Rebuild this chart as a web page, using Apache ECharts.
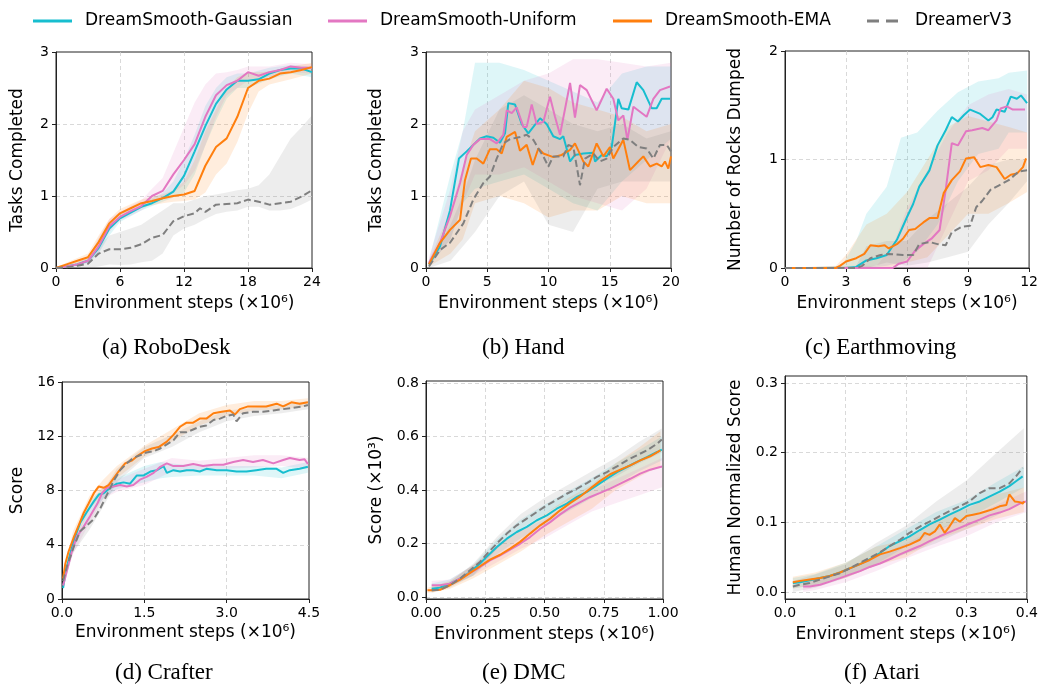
<!DOCTYPE html>
<html><head><meta charset="utf-8">
<script src="https://cdn.jsdelivr.net/npm/echarts@6/dist/echarts.min.js"></script>
<style>html,body{margin:0;padding:0;background:#fff}#c{width:1041px;height:687px}</style>
</head><body><div id="c"></div>
<script>
// ---------- labels ----------
const seriesNames = ['DreamSmooth-Gaussian', 'DreamSmooth-Uniform', 'DreamSmooth-EMA', 'DreamerV3'];
const captions = ['(a) RoboDesk', '(b) Hand', '(c) Earthmoving', '(d) Crafter', '(e) DMC', '(f) Atari'];
const yTitles = ['Tasks Completed', 'Tasks Completed', 'Number of Rocks Dumped', 'Score', 'Score (×10³)', 'Human Normalized Score'];
const xTitle = 'Environment steps (×10⁶)';
const xTickValues = [[0, 6, 12, 18, 24], [0, 5, 10, 15, 20], [0, 3, 6, 9, 12], [0, 1.5, 3.0, 4.5], [0, 0.25, 0.5, 0.75, 1.0], [0, 0.1, 0.2, 0.3, 0.4]];
const yTickValues = [[0, 1, 2, 3], [0, 1, 2, 3], [0, 1, 2], [0, 4, 8, 12, 16], [0, 0.2, 0.4, 0.6, 0.8], [0, 0.1, 0.2, 0.3]];
const xDecimals = [0, 0, 0, 1, 2, 1];
const yDecimals = [0, 0, 0, 0, 1, 1];

// ---------- (a) RoboDesk ----------
const a_gauss = [[0,0],[1,0.02],[2,0.05],[3,0.1],[4,0.28],[5,0.55],[6,0.69],[7,0.77],[8,0.85],[9,0.9],[10,0.97],[11,1.06],[12,1.28],[13,1.62],[14,1.97],[15,2.28],[16,2.48],[17,2.6],[18,2.6],[19,2.62],[20,2.7],[21,2.75],[22,2.77],[23,2.77],[24,2.72]];
const a_unif = [[0,0],[1,0.02],[2,0.05],[3,0.1],[4,0.3],[5,0.58],[6,0.71],[7,0.79],[8,0.86],[9,1.0],[10,1.07],[11,1.3],[12,1.5],[13,1.72],[14,2.1],[15,2.4],[16,2.54],[17,2.6],[18,2.72],[19,2.67],[20,2.72],[21,2.75],[22,2.8],[23,2.78],[24,2.78]];
const a_ema = [[0,0],[1,0.05],[2,0.1],[3,0.15],[4,0.36],[5,0.62],[6,0.76],[7,0.83],[8,0.9],[9,0.93],[10,0.97],[11,1.0],[12,1.02],[13,1.07],[14,1.42],[15,1.68],[16,1.8],[17,2.1],[18,2.5],[19,2.6],[20,2.63],[21,2.7],[22,2.72],[23,2.75],[24,2.79]];
const a_dv3 = [[0,0],[1,0.01],[2,0.03],[3,0.06],[4,0.2],[5,0.26],[6,0.26],[7,0.28],[8,0.33],[9,0.42],[10,0.46],[11,0.65],[12,0.72],[13,0.76],[13.5,0.83],[14,0.78],[15,0.88],[16,0.89],[17,0.9],[18,0.95],[19,0.92],[20,0.88],[21,0.9],[22,0.92],[23,0.99],[24,1.08]];
const a_gauss_band = [[0,0,0.01],[2,0.04,0.08],[3,0.07,0.14],[4,0.2,0.4],[5,0.45,0.65],[6,0.64,0.74],[8,0.8,0.9],[10,0.92,1.04],[11,0.98,1.2],[12,1.05,1.5],[13,1.3,1.85],[14,1.7,2.25],[15,2.05,2.5],[16,2.35,2.65],[17,2.5,2.7],[18,2.5,2.7],[20,2.62,2.78],[22,2.7,2.82],[24,2.65,2.8]];
const a_unif_band = [[0,0,0.01],[2,0.04,0.08],[3,0.07,0.14],[4,0.22,0.42],[5,0.5,0.68],[6,0.66,0.78],[8,0.8,0.94],[9,0.9,1.1],[10,0.95,1.25],[11,1.05,1.6],[12,1.15,1.95],[13,1.35,2.3],[14,1.7,2.55],[15,2.1,2.7],[16,2.4,2.72],[17,2.5,2.75],[18,2.6,2.8],[20,2.65,2.8],[22,2.72,2.85],[24,2.7,2.83]];
const a_ema_band = [[0,0,0.01],[2,0.06,0.14],[3,0.1,0.2],[4,0.28,0.45],[5,0.52,0.68],[6,0.7,0.82],[8,0.84,0.95],[10,0.9,1.02],[11,0.92,1.08],[12,0.93,1.2],[13,0.95,1.5],[14,1.05,1.9],[15,1.3,2.2],[16,1.45,2.5],[17,1.75,2.65],[18,2.15,2.72],[19,2.45,2.72],[20,2.55,2.73],[22,2.62,2.8],[24,2.7,2.85]];
const a_dv3_band = [[0,0,0.01],[2,0,0.07],[3,0,0.12],[4,0.02,0.3],[5,0.05,0.45],[6,0.04,0.5],[7,0.05,0.55],[8,0.08,0.6],[9,0.1,0.7],[10,0.2,0.8],[11,0.45,0.9],[12,0.55,0.9],[13,0.6,0.95],[14,0.68,1.0],[15,0.75,1.02],[16,0.78,1.05],[17,0.8,1.08],[18,0.85,1.1],[19,0.85,1.15],[20,0.8,1.3],[21,0.8,1.55],[22,0.82,1.8],[23,0.88,1.95],[24,0.95,2.12]];

// ---------- (b) Hand ----------
const b_gauss = [[0.24,0.05],[1.14,0.3],[1.96,0.8],[2.69,1.52],[3.32,1.62],[3.86,1.71],[4.41,1.8],[4.95,1.83],[5.5,1.81],[6.04,1.74],[6.45,1.87],[6.72,2.29],[7.27,2.27],[7.81,2.0],[8.35,1.87],[9.31,2.08],[9.85,2.0],[10.39,1.83],[10.94,1.79],[11.21,1.83],[11.76,1.48],[12.16,1.57],[12.84,1.59],[13.66,1.6],[13.8,1.48],[14.34,1.57],[14.75,1.55],[15.16,1.68],[15.7,2.35],[15.97,2.22],[16.52,2.2],[17.2,2.58],[17.74,2.47],[18.42,2.22],[18.83,2.22],[19.24,2.35],[19.92,2.35]];
const b_unif = [[0.24,0.07],[1.14,0.35],[1.96,0.72],[2.78,1.18],[3.32,1.57],[3.86,1.71],[4.41,1.79],[5.22,1.79],[5.77,1.73],[6.31,1.85],[6.59,2.19],[7.0,2.15],[7.4,2.23],[7.95,1.96],[8.22,1.96],[8.63,2.27],[9.03,2.0],[9.58,2.03],[10.12,2.38],[10.53,2.1],[10.94,1.85],[11.76,2.57],[12.16,2.09],[12.57,2.54],[13.12,2.47],[13.93,2.19],[14.75,2.49],[15.29,2.35],[15.7,2.05],[16.11,2.12],[16.44,1.78],[16.93,2.24],[18.01,2.1],[18.56,2.35],[19.1,2.47],[19.92,2.52]];
const b_ema = [[0.24,0.05],[1.14,0.35],[1.96,0.53],[2.78,0.67],[3.18,1.22],[3.67,1.52],[4.14,1.52],[4.68,1.45],[5.22,1.65],[5.77,1.65],[6.18,1.59],[6.59,1.82],[7.27,1.89],[7.67,1.63],[8.22,1.71],[8.71,1.43],[9.17,1.66],[9.58,1.59],[10.39,1.54],[11.07,1.57],[11.76,1.64],[12.16,1.73],[12.84,1.48],[13.25,1.41],[13.93,1.73],[14.48,1.55],[15.02,1.68],[15.29,1.52],[16.11,1.78],[16.65,1.36],[17.33,1.48],[17.74,1.55],[18.29,1.41],[18.83,1.45],[19.24,1.41],[19.51,1.48],[19.78,1.38],[20.0,1.55]];
const b_dv3 = [[0.24,0.02],[1.14,0.25],[1.96,0.35],[3.05,0.62],[3.86,0.95],[4.68,1.18],[5.22,1.27],[5.77,1.52],[6.31,1.73],[6.86,1.79],[7.67,1.82],[8.22,1.85],[8.76,1.78],[9.17,1.66],[9.58,1.55],[9.99,1.41],[10.39,1.55],[11.21,1.55],[11.62,1.71],[12.03,1.68],[12.57,1.15],[12.98,1.52],[13.66,1.59],[14.2,1.48],[14.75,1.52],[15.29,1.68],[16.11,1.8],[16.65,1.78],[17.33,1.68],[18.01,1.66],[18.56,1.52],[19.1,1.71],[19.65,1.71],[20.0,1.62]];
const b_gauss_band = [[0.24,0.02,0.1],[2,0.4,1.3],[3,0.9,1.9],[4,1.1,2.85],[6,1.2,2.85],[8,1.3,2.75],[10,1.1,2.6],[12,0.9,2.45],[14,0.8,2.3],[16,1.2,2.7],[18,1.5,2.8],[20,1.8,2.8]];
const b_unif_band = [[0.24,0.02,0.15],[2,0.4,1.1],[3,0.9,1.9],[4,1.3,2.2],[6,1.3,2.4],[8,1.4,2.6],[10,1.2,2.7],[12,1.0,2.9],[14,0.9,2.9],[16,0.8,2.85],[18,1.1,2.8],[20,1.8,2.85]];
const b_ema_band = [[0.24,0.02,0.1],[2,0.2,0.8],[3,0.4,1.4],[4,0.9,1.9],[6,1.0,2.2],[8,0.9,2.6],[10,0.7,2.5],[12,0.8,2.3],[14,0.8,2.2],[16,1.0,2.1],[18,0.9,1.9],[20,0.9,2.0]];
const b_dv3_band = [[0.24,0.0,0.1],[2,0.1,0.6],[3,0.3,1.0],[4,0.5,1.5],[6,1.0,2.2],[8,1.2,2.4],[10,0.6,2.2],[12,0.5,2.0],[14,1.1,1.9],[16,1.2,2.0],[18,1.2,1.8],[20,1.2,1.9]];

// ---------- (c) Earthmoving ----------
const c_gauss = [[0,0],[3,0],[3.5,0.01],[4.0,0.07],[4.5,0.09],[5.0,0.12],[5.5,0.26],[6.0,0.47],[6.3,0.59],[6.6,0.75],[7.1,0.9],[7.5,1.13],[7.9,1.27],[8.2,1.39],[8.5,1.35],[8.8,1.41],[9.1,1.46],[9.6,1.42],[10.0,1.36],[10.2,1.39],[10.4,1.46],[10.8,1.44],[11.1,1.58],[11.4,1.56],[11.6,1.59],[11.9,1.52]];
const c_unif = [[0,0],[5.3,0],[5.6,0.04],[6.0,0.06],[6.4,0.16],[6.8,0.22],[7.2,0.27],[7.6,0.35],[7.9,0.72],[8.2,1.15],[8.5,1.13],[8.9,1.26],[9.2,1.27],[9.7,1.29],[10.0,1.27],[10.4,1.36],[10.6,1.47],[10.9,1.49],[11.2,1.46],[11.5,1.46],[11.8,1.46]];
const c_ema = [[0,0],[2.5,0],[2.7,0.02],[3.0,0.06],[3.5,0.09],[3.9,0.13],[4.2,0.21],[4.6,0.2],[4.9,0.21],[5.1,0.18],[5.5,0.22],[5.8,0.27],[6.1,0.35],[6.4,0.36],[6.8,0.42],[7.1,0.46],[7.5,0.46],[7.8,0.69],[8.2,0.81],[8.6,0.89],[8.9,1.01],[9.3,1.02],[9.6,0.93],[10.0,0.95],[10.4,0.93],[10.8,0.82],[11.1,0.86],[11.4,0.87],[11.7,0.93],[11.85,1.01]];
const c_dv3 = [[0,0],[3.5,0],[3.8,0.02],[4.2,0.09],[4.7,0.12],[5.1,0.13],[5.8,0.12],[6.3,0.12],[6.6,0.22],[7.1,0.24],[7.5,0.22],[7.9,0.21],[8.2,0.33],[8.7,0.38],[9.1,0.39],[9.4,0.56],[9.7,0.62],[10.1,0.72],[10.5,0.76],[11.0,0.81],[11.5,0.89],[11.9,0.9]];
const c_gauss_band = [[0,0,0],[2.8,0,0.02],[3.5,0,0.25],[4,0,0.5],[5,0.02,0.75],[5.7,0.05,1.2],[6.5,0.15,1.25],[7.5,0.4,1.45],[8.5,0.8,1.62],[9.5,1.05,1.72],[10.5,1.1,1.75],[11,1.25,1.8],[11.9,1.25,1.82]];
const c_unif_band = [[0,0,0],[4.5,0,0.02],[5.3,0,0.2],[6,0,0.55],[7,0,0.9],[8,0.4,1.25],[9,0.8,1.5],[10,0.9,1.6],[11,1.1,1.65],[11.9,1.1,1.6]];
const c_ema_band = [[0,0,0],[2.5,0,0.02],[3,0,0.12],[4,0,0.4],[5,0,0.5],[6,0.05,0.7],[7,0.1,1.0],[8,0.3,1.3],[9,0.5,1.4],[10,0.5,1.35],[11,0.6,1.3],[11.9,0.7,1.25]];
const c_dv3_band = [[0,0,0],[3.5,0,0.02],[4,0,0.2],[5,0.05,0.25],[6,0.02,0.25],[7,0.05,0.45],[8,0.1,0.6],[9,0.15,0.75],[10,0.4,0.95],[11,0.6,1.0],[11.9,0.8,1.0]];

// ---------- (d) Crafter ----------
const d_gauss = [[0.02,0.8],[0.06,1.9],[0.15,3.35],[0.24,4.6],[0.33,5.6],[0.45,6.4],[0.58,7.2],[0.67,7.7],[0.76,7.8],[0.88,8.2],[1.0,8.5],[1.12,8.6],[1.24,8.5],[1.36,9.1],[1.48,9.1],[1.61,9.4],[1.73,9.5],[1.85,9.8],[1.91,9.3],[2.03,9.5],[2.15,9.4],[2.27,9.5],[2.39,9.5],[2.51,9.4],[2.63,9.6],[2.82,9.5],[3.0,9.5],[3.18,9.4],[3.36,9.4],[3.54,9.5],[3.72,9.6],[3.91,9.6],[4.03,9.3],[4.15,9.5],[4.33,9.6],[4.48,9.75]];
const d_unif = [[0.02,1.0],[0.09,2.1],[0.18,3.5],[0.27,4.6],[0.39,5.3],[0.51,6.1],[0.64,7.0],[0.73,7.8],[0.82,8.2],[0.94,8.3],[1.06,8.4],[1.18,8.3],[1.3,8.4],[1.42,8.8],[1.54,9.0],[1.67,9.3],[1.79,9.75],[1.91,10.0],[2.03,9.8],[2.21,9.8],[2.39,9.95],[2.57,9.8],[2.76,9.9],[2.94,9.9],[3.12,10.1],[3.3,10.25],[3.48,10.1],[3.66,10.25],[3.85,10.0],[4.03,10.25],[4.15,10.4],[4.33,10.25],[4.42,10.3],[4.48,9.95]];
const d_ema = [[0.02,1.5],[0.06,2.6],[0.12,3.5],[0.21,4.5],[0.3,5.4],[0.39,6.3],[0.48,7.0],[0.58,7.8],[0.67,8.3],[0.76,8.2],[0.85,8.4],[0.94,8.9],[1.03,9.4],[1.15,10.0],[1.27,10.2],[1.39,10.6],[1.51,10.9],[1.64,11.1],[1.76,11.2],[1.91,11.6],[2.03,12.1],[2.15,12.7],[2.27,13.0],[2.39,13.0],[2.51,13.3],[2.63,13.3],[2.76,13.7],[2.91,13.8],[3.06,13.9],[3.15,13.6],[3.24,14.0],[3.39,14.2],[3.54,14.2],[3.72,14.2],[3.91,14.4],[4.03,14.2],[4.18,14.5],[4.33,14.4],[4.48,14.5]];
const d_dv3 = [[0.02,1.3],[0.09,2.4],[0.21,3.8],[0.33,5.0],[0.45,5.4],[0.58,5.9],[0.7,6.7],[0.82,7.7],[0.94,8.7],[1.06,9.5],[1.18,10.0],[1.3,10.4],[1.42,10.6],[1.54,10.8],[1.67,10.9],[1.79,11.1],[1.91,11.4],[2.03,11.7],[2.15,12.3],[2.27,12.3],[2.39,12.5],[2.51,12.7],[2.63,12.8],[2.76,13.2],[2.88,13.3],[3.0,13.5],[3.12,13.6],[3.18,13.1],[3.3,13.7],[3.48,13.8],[3.66,13.8],[3.85,13.9],[4.03,14.0],[4.21,14.1],[4.39,14.2],[4.48,14.3]];
const d_gauss_band = [[0.02,0.6,1.0],[0.2,3.6,4.6],[0.5,6.2,7.2],[0.75,7.4,8.2],[1.0,8.1,8.9],[1.5,8.6,9.8],[1.8,8.9,10.1],[2.0,9.0,10.0],[2.5,9.1,9.8],[3.0,9.1,9.8],[3.5,9.1,9.8],[4.0,8.9,9.7],[4.48,9.3,10.1]];
const d_unif_band = [[0.02,0.8,1.2],[0.2,3.3,4.3],[0.5,5.6,6.6],[0.75,7.4,8.3],[1.0,7.9,8.8],[1.5,8.4,9.6],[2.0,9.4,10.4],[2.5,9.4,10.2],[3.0,9.6,10.4],[3.5,9.7,10.6],[4.0,9.8,10.6],[4.48,9.6,10.4]];
const d_ema_band = [[0.02,1.2,1.8],[0.2,4.0,5.0],[0.5,6.6,7.6],[0.75,7.8,8.8],[1.0,8.9,9.8],[1.5,10.5,11.3],[2.0,11.6,12.5],[2.5,12.8,13.7],[3.0,13.5,14.3],[3.5,13.9,14.6],[4.0,14.0,14.6],[4.48,14.2,14.8]];
const d_dv3_band = [[0.02,1.0,1.6],[0.2,3.4,4.2],[0.5,5.1,6.0],[0.75,6.8,8.0],[1.0,8.6,9.6],[1.5,10.4,11.2],[2.0,11.2,12.1],[2.5,12.3,13.1],[3.0,13.1,13.9],[3.5,13.5,14.1],[4.0,13.7,14.3],[4.48,14.0,14.6]];

// ---------- (e) DMC ----------
const e_gauss = [[0.024,0.031],[0.059,0.035],[0.101,0.05],[0.144,0.069],[0.186,0.093],[0.228,0.125],[0.256,0.15],[0.299,0.187],[0.341,0.218],[0.383,0.243],[0.425,0.262],[0.468,0.287],[0.51,0.305],[0.552,0.33],[0.594,0.349],[0.637,0.374],[0.679,0.393],[0.721,0.417],[0.763,0.442],[0.806,0.467],[0.848,0.486],[0.89,0.505],[0.932,0.523],[0.975,0.542],[0.995,0.551]];
const e_unif = [[0.024,0.044],[0.059,0.044],[0.101,0.05],[0.144,0.069],[0.186,0.09],[0.228,0.112],[0.27,0.137],[0.313,0.156],[0.355,0.177],[0.397,0.199],[0.439,0.224],[0.482,0.255],[0.524,0.28],[0.566,0.309],[0.608,0.334],[0.651,0.355],[0.693,0.374],[0.735,0.389],[0.777,0.405],[0.82,0.424],[0.862,0.442],[0.904,0.461],[0.946,0.476],[0.996,0.488]];
const e_ema = [[0.006,0.025],[0.031,0.025],[0.059,0.027],[0.101,0.044],[0.144,0.065],[0.186,0.09],[0.228,0.115],[0.27,0.14],[0.313,0.158],[0.355,0.181],[0.397,0.206],[0.439,0.237],[0.482,0.268],[0.524,0.293],[0.566,0.324],[0.608,0.351],[0.651,0.376],[0.693,0.405],[0.735,0.434],[0.777,0.459],[0.82,0.476],[0.862,0.492],[0.904,0.511],[0.946,0.526],[0.989,0.548]];
const e_dv3 = [[0.024,0.025],[0.059,0.027],[0.101,0.044],[0.144,0.069],[0.186,0.1],[0.228,0.131],[0.256,0.16],[0.299,0.2],[0.341,0.237],[0.383,0.268],[0.425,0.293],[0.468,0.318],[0.51,0.343],[0.552,0.364],[0.594,0.386],[0.637,0.405],[0.679,0.426],[0.721,0.449],[0.763,0.467],[0.806,0.488],[0.848,0.511],[0.89,0.53],[0.932,0.548],[0.975,0.573],[0.995,0.589]];
const e_gauss_band = [[0.024,0.02,0.05],[0.1,0.04,0.065],[0.2,0.08,0.12],[0.3,0.16,0.215],[0.4,0.22,0.29],[0.5,0.27,0.345],[0.6,0.32,0.395],[0.7,0.37,0.445],[0.8,0.42,0.5],[0.9,0.47,0.55],[0.995,0.51,0.6]];
const e_unif_band = [[0.024,0.03,0.06],[0.1,0.04,0.065],[0.2,0.08,0.12],[0.3,0.13,0.19],[0.4,0.18,0.25],[0.5,0.22,0.29],[0.6,0.27,0.35],[0.7,0.32,0.4],[0.8,0.35,0.44],[0.9,0.38,0.48],[0.996,0.41,0.52]];
const e_ema_band = [[0.006,0.015,0.035],[0.1,0.03,0.06],[0.2,0.07,0.12],[0.3,0.12,0.19],[0.4,0.17,0.25],[0.5,0.23,0.31],[0.6,0.28,0.37],[0.7,0.33,0.42],[0.8,0.4,0.5],[0.9,0.45,0.56],[0.989,0.49,0.62]];
const e_dv3_band = [[0.024,0.015,0.035],[0.1,0.035,0.055],[0.2,0.08,0.125],[0.3,0.18,0.225],[0.4,0.255,0.31],[0.5,0.31,0.37],[0.6,0.36,0.42],[0.7,0.41,0.47],[0.8,0.45,0.52],[0.9,0.5,0.58],[0.995,0.54,0.63]];

// ---------- (f) Atari ----------
const f_gauss = [[0.013,0.013],[0.025,0.014],[0.041,0.017],[0.058,0.02],[0.074,0.023],[0.091,0.028],[0.107,0.034],[0.124,0.04],[0.14,0.047],[0.157,0.056],[0.173,0.066],[0.19,0.073],[0.206,0.08],[0.223,0.089],[0.239,0.097],[0.256,0.104],[0.272,0.111],[0.289,0.118],[0.305,0.125],[0.322,0.13],[0.338,0.137],[0.355,0.144],[0.371,0.152],[0.382,0.159],[0.393,0.166]];
const f_unif = [[0.03,0.008],[0.041,0.008],[0.058,0.0105],[0.074,0.015],[0.091,0.02],[0.107,0.025],[0.124,0.03],[0.14,0.036],[0.157,0.041],[0.173,0.047],[0.19,0.054],[0.206,0.06],[0.223,0.066],[0.239,0.073],[0.256,0.08],[0.272,0.086],[0.289,0.092],[0.305,0.098],[0.322,0.104],[0.338,0.11],[0.355,0.114],[0.371,0.119],[0.382,0.124],[0.393,0.129],[0.399,0.13]];
const f_ema = [[0.013,0.014],[0.025,0.016],[0.041,0.018],[0.058,0.02],[0.074,0.023],[0.091,0.028],[0.107,0.034],[0.124,0.04],[0.14,0.046],[0.157,0.054],[0.173,0.058],[0.19,0.063],[0.206,0.068],[0.223,0.075],[0.231,0.085],[0.239,0.082],[0.248,0.087],[0.256,0.097],[0.264,0.085],[0.272,0.094],[0.281,0.106],[0.289,0.101],[0.3,0.109],[0.311,0.111],[0.322,0.113],[0.333,0.116],[0.344,0.119],[0.355,0.123],[0.366,0.125],[0.371,0.14],[0.38,0.13],[0.388,0.129],[0.393,0.127],[0.396,0.13]];
const f_dv3 = [[0.013,0.008],[0.025,0.0105],[0.041,0.013],[0.058,0.018],[0.074,0.0225],[0.091,0.027],[0.107,0.034],[0.124,0.042],[0.14,0.049],[0.157,0.057],[0.173,0.066],[0.19,0.075],[0.206,0.085],[0.223,0.094],[0.239,0.101],[0.256,0.109],[0.272,0.116],[0.289,0.123],[0.305,0.13],[0.322,0.142],[0.338,0.149],[0.355,0.149],[0.371,0.156],[0.382,0.166],[0.393,0.178]];
const f_gauss_band = [[0.013,0.005,0.02],[0.05,0.01,0.026],[0.1,0.022,0.042],[0.15,0.04,0.065],[0.2,0.065,0.09],[0.25,0.088,0.115],[0.3,0.105,0.132],[0.35,0.128,0.158],[0.395,0.15,0.18]];
const f_unif_band = [[0.03,0.0,0.015],[0.05,0.003,0.018],[0.1,0.014,0.032],[0.15,0.03,0.05],[0.2,0.048,0.07],[0.25,0.065,0.09],[0.3,0.08,0.105],[0.35,0.1,0.125],[0.4,0.115,0.145]];
const f_ema_band = [[0.013,0.005,0.022],[0.05,0.01,0.028],[0.1,0.02,0.042],[0.15,0.038,0.065],[0.2,0.05,0.075],[0.25,0.075,0.105],[0.3,0.09,0.12],[0.35,0.105,0.14],[0.395,0.115,0.15]];
const f_dv3_band = [[0.013,0.0,0.016],[0.05,0.006,0.025],[0.1,0.02,0.04],[0.15,0.038,0.07],[0.2,0.055,0.095],[0.25,0.07,0.13],[0.3,0.09,0.16],[0.35,0.11,0.2],[0.395,0.13,0.235]];

// ---------- assembly ----------
const lines = [
  [a_gauss, a_unif, a_ema, a_dv3], [b_gauss, b_unif, b_ema, b_dv3], [c_gauss, c_unif, c_ema, c_dv3],
  [d_gauss, d_unif, d_ema, d_dv3], [e_gauss, e_unif, e_ema, e_dv3], [f_gauss, f_unif, f_ema, f_dv3]
];
const bands = [
  [a_gauss_band, a_unif_band, a_ema_band, a_dv3_band], [b_gauss_band, b_unif_band, b_ema_band, b_dv3_band],
  [c_gauss_band, c_unif_band, c_ema_band, c_dv3_band], [d_gauss_band, d_unif_band, d_ema_band, d_dv3_band],
  [e_gauss_band, e_unif_band, e_ema_band, e_dv3_band], [f_gauss_band, f_unif_band, f_ema_band, f_dv3_band]
];

const COLORS = ['#17becf', '#e377c2', '#ff7f0e', '#7f7f7f'];
const FONT = 'DejaVu Sans';
const layout = [
  {left: 56, top: 52, width: 256, height: 216, gapY: 30, gapX: 27, xmin: 0, xmax: 24, ymin: 0, ymax: 3},
  {left: 426, top: 52, width: 245, height: 216, gapY: 41, gapX: 27, xmin: 0, xmax: 20, ymin: 0, ymax: 3},
  {left: 785, top: 51, width: 245, height: 217, gapY: 41, gapX: 27, xmin: 0, xmax: 12, ymin: 0, ymax: 2},
  {left: 62, top: 382, width: 247, height: 217, gapY: 36, gapX: 25, xmin: 0, xmax: 4.5, ymin: 0, ymax: 16},
  {left: 426, top: 381, width: 237, height: 218, gapY: 41, gapX: 27, xmin: 0, xmax: 1, ymin: -0.0075, ymax: 0.8075},
  {left: 785, top: 376, width: 242, height: 223, gapY: 41, gapX: 27, xmin: 0, xmax: 0.4, ymin: -0.01, ymax: 0.31}
];
const captionPos = [[166, 336], [523, 336], [881, 336], [164, 661], [524, 661], [882, 661]];
const legendLayout = [
  {left: 33, width: 39, pad: 8, icon: 'rect'},
  {left: 328, width: 39, pad: 8, icon: 'rect'},
  {left: 613, width: 39, pad: 8, icon: 'rect'},
  {left: 867, width: 31, pad: 12, icon: 'path://M0,0H12V3H0Z M19,0H31V3H19Z'}
];

function rgba(hex, a) {
  const n = parseInt(hex.slice(1), 16);
  return 'rgba(' + (n >> 16 & 255) + ',' + (n >> 8 & 255) + ',' + (n & 255) + ',' + a + ')';
}

const grids = [], xAxes = [], yAxes = [], series = [], titles = [];
layout.forEach((L, i) => {
  grids.push({left: L.left, top: L.top, width: L.width, height: L.height, containLabel: false,
    show: true, borderColor: '#222', borderWidth: 1, backgroundColor: 'transparent'});
  const edgeY = (i >= 4);
  xAxes.push({
    gridIndex: i, type: 'value', min: L.xmin, max: L.xmax,
    axisLine: {show: true, onZero: false, lineStyle: {color: '#222', width: 1}},
    axisTick: {show: true, inside: false, length: 4, lineStyle: {color: '#222'}, customValues: xTickValues[i]},
    axisLabel: {show: true, margin: 7, fontFamily: FONT, fontSize: 14, color: '#000', customValues: xTickValues[i],
      formatter: v => Number(v).toFixed(xDecimals[i])},
    splitLine: {show: true, showMinLine: false, showMaxLine: false, lineStyle: {color: '#cfcfcf', width: 0.8, type: [4, 3]}},
    name: xTitle, nameLocation: 'middle', nameGap: L.gapX,
    nameTextStyle: {fontFamily: FONT, fontSize: 17, color: '#000'}
  });
  yAxes.push({
    gridIndex: i, type: 'value', min: L.ymin, max: L.ymax,
    axisLine: {show: true, onZero: false, lineStyle: {color: '#222', width: 1}},
    axisTick: {show: true, inside: false, length: 4, lineStyle: {color: '#222'}, customValues: yTickValues[i]},
    axisLabel: {show: true, margin: 7, fontFamily: FONT, fontSize: 14, color: '#000', customValues: yTickValues[i],
      formatter: v => Number(v).toFixed(yDecimals[i])},
    splitLine: {show: true, showMinLine: edgeY, showMaxLine: edgeY, lineStyle: {color: '#cfcfcf', width: 0.8, type: [4, 3]}},
    name: yTitles[i], nameLocation: 'middle', nameGap: L.gapY,
    nameTextStyle: {fontFamily: FONT, fontSize: 17, color: '#000'}
  });
  titles.push({text: captions[i], left: captionPos[i][0], top: captionPos[i][1], textAlign: 'left', padding: 0,
    textStyle: {fontFamily: 'Liberation Serif', fontSize: 23, fontWeight: 'normal', color: '#000'}});
  bands[i].forEach((band, k) => {
    series.push({
      type: 'custom', xAxisIndex: i, yAxisIndex: i, data: band, silent: true, z: 1, clip: true,
      encode: {x: 0, y: 1},
      renderItem: function (params, api) {
        if (params.dataIndex !== 0) return null;
        const up = band.map(d => api.coord([d[0], d[2]]));
        const dn = band.map(d => api.coord([d[0], d[1]])).reverse();
        return {type: 'polygon', shape: {points: up.concat(dn)}, style: {fill: rgba(COLORS[k], 0.14)}};
      }
    });
  });
  lines[i].forEach((data, k) => {
    series.push({
      type: 'line', name: seriesNames[k], xAxisIndex: i, yAxisIndex: i, data: data,
      showSymbol: false, symbol: 'none', z: 3 + k, clip: true,
      itemStyle: {color: COLORS[k]},
      lineStyle: {color: COLORS[k], width: 2, type: k === 3 ? [7, 3.5] : 'solid'}
    });
  });
});

const legends = seriesNames.map((n, k) => ({
  data: [{name: n, icon: legendLayout[k].icon}], left: legendLayout[k].left, top: 12.5, padding: 0,
  itemWidth: legendLayout[k].width, itemHeight: 3, selectedMode: false,
  itemStyle: {color: COLORS[k]},
  textStyle: {fontFamily: FONT, fontSize: 17, color: '#000', padding: [0, 0, 0, legendLayout[k].pad]}
}));

const chart = echarts.init(document.getElementById('c'), null, {renderer: 'canvas'});
const ctx = document.createElement('canvas').getContext('2d');
ctx.font = '23px "Liberation Serif"';
titles.forEach((t, i) => { t.left = Math.round(captionPos[i][0] - ctx.measureText(captions[i]).width / 2); });

chart.setOption({
  animation: false,
  backgroundColor: '#fff',
  title: titles,
  legend: legends,
  grid: grids,
  xAxis: xAxes,
  yAxis: yAxes,
  series: series
});
</script></body></html>
